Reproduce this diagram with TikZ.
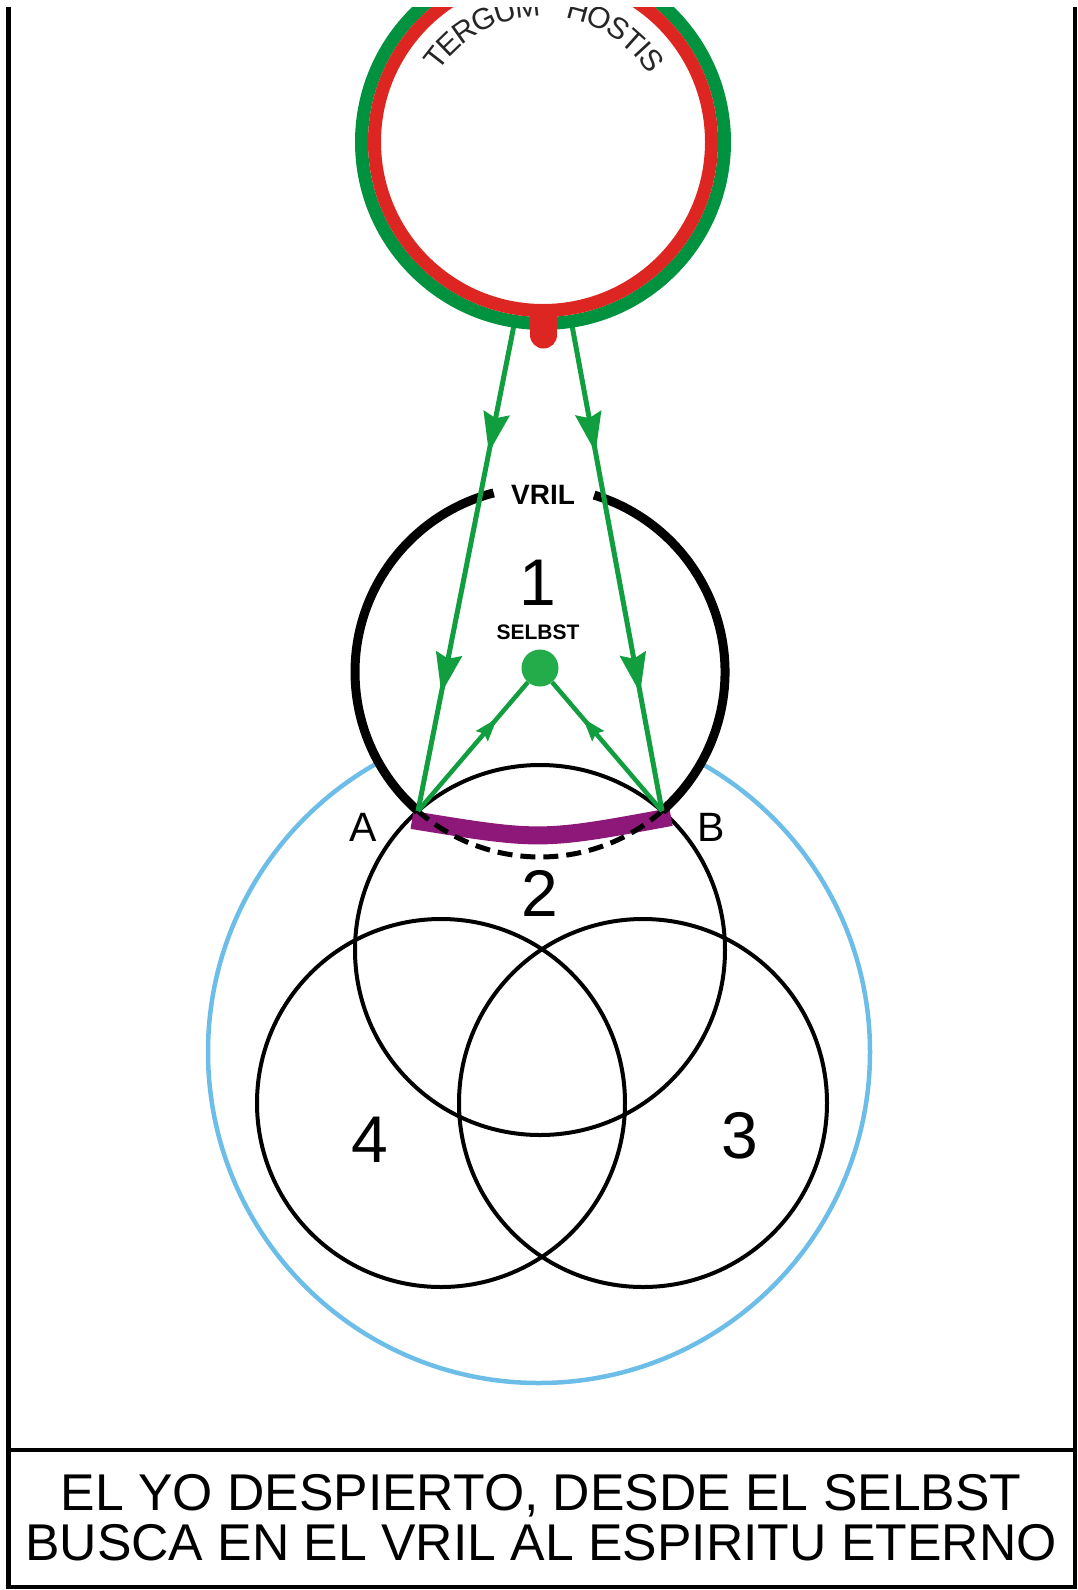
\documentclass[tikz,border=0pt]{standalone}
\usepackage{fontspec}
\setmainfont{Liberation Sans}
\usetikzlibrary{arrows.meta,decorations.markings}

\definecolor{hostisgreen}{RGB}{0,146,63}
\definecolor{hostisred}{RGB}{221,38,34}
\definecolor{raygreen}{RGB}{16,158,62}
\definecolor{dotgreen}{RGB}{36,172,74}
\definecolor{bandpurple}{RGB}{142,24,122}
\definecolor{aurablue}{RGB}{108,190,232}

\begin{document}
\begin{tikzpicture}[x=1pt, y=-1pt,
        thinring/.style={draw=black, line width=4pt},
        thickring/.style={draw=black, line width=9pt},
        ray/.style={draw=raygreen, line width=5pt, postaction={decorate},
            decoration={markings,
                mark=at position 0.27 with {\arrow{Stealth[length=40pt,width=26pt,inset=5pt]}},
                mark=at position 0.76 with {\arrow{Stealth[length=40pt,width=26pt,inset=5pt]}}}},
        backray/.style={draw=raygreen, line width=4.5pt, postaction={decorate},
            decoration={markings,
                mark=at position 0.72 with {\arrow{Stealth[length=23pt,width=15pt,inset=3pt]}}}},
        hostisletter/.style={inner sep=0pt, text=black!85, font=\fontsize{30}{30}\selectfont},
        numlabel/.style={inner sep=0pt, font=\fontsize{66}{66}\selectfont},
        letterlabel/.style={inner sep=0pt, font=\fontsize{41}{41}\selectfont},
        captionline/.style={inner sep=0pt, anchor=base, font=\fontsize{51.7}{51.7}\selectfont}]

    \useasboundingbox (0,0) rectangle (1078,1590);
    \clip (0,7) rectangle (1078,1590);

    % frame
    \draw[line width=4.5pt] (8.5,-20) rectangle (1075,1587);
    \draw[line width=4pt] (8.5,1450) -- (1075,1450);

    % centres and points
    \coordinate (hostis) at (543,142);
    \coordinate (c1) at (540,672);
    \coordinate (c2) at (540,950);
    \coordinate (c3) at (643,1103);
    \coordinate (c4) at (441,1103);
    \coordinate (aura) at (539,1052);
    \coordinate (A) at (418,811);
    \coordinate (B) at (662,811);
    \coordinate (tl) at (515,320);
    \coordinate (tr) at (571,320);

    % circles
    \draw[aurablue, line width=4.5pt] (aura) circle[radius=331];
    \fill[white] (c1) circle[radius=185];
    \draw[thinring] (c2) circle[radius=185];
    \draw[thinring] (c3) circle[radius=184];
    \draw[thinring] (c4) circle[radius=184];

    % band between A and B
    \draw[bandpurple, line width=18pt] (412,820) .. controls (541,841) .. (671,817);

    % circle 1
    \draw[black, line width=5pt, dash pattern=on 15pt off 8pt] (c1) ++(48.7:185) arc[start angle=48.7, end angle=131.3, radius=185];
    \draw[thickring] (c1) ++(131.3:185) arc[start angle=131.3, end angle=255.5, radius=185];
    \draw[thickring] (c1) ++(287:185) arc[start angle=287, end angle=408.7, radius=185];

    % rays
    \draw[ray] (tl) -- (A);
    \draw[ray] (tr) -- (B);
    \node[circle, fill=dotgreen, inner sep=0pt, minimum size=37pt] (selbst) at (540,668) {};
    \draw[backray] (A) -- (selbst);
    \draw[backray] (B) -- (selbst);

    % tergum hostis
    \draw[hostisgreen, line width=13pt] (hostis) circle[radius=181.5];
    \draw[hostisred, line width=13pt] (hostis) circle[radius=168.5];
    \fill[hostisred] (530,305) rectangle (557,335);
    \fill[hostisred] (543.5,335) circle[radius=13.5];
    \foreach \ch/\ang [count=\k] in {T/218,E/226,R/234.7,G/244.2,U/253.6,M/263.4,
            H/285.2,O/294.6,S/303.7,T/311.7,I/317.3,S/323.3}
        \path (hostis) ++(\ang:136) node[hostisletter, rotate=270-\ang] (tg\k) {\ch};

    % labels
    \node[inner sep=0pt, font=\bfseries\fontsize{28}{28}\selectfont] (vril) at (543,495) {VRIL};
    \node[inner sep=0pt, font=\bfseries\fontsize{21}{21}\selectfont] (selbsttext) at (538,632) {SELBST};
    \node[numlabel] (one) at (538,583) {1};
    \node[numlabel] (two) at (540,893) {2};
    \node[numlabel] (three) at (740,1136) {3};
    \node[numlabel] (four) at (370,1140) {4};
    \node[letterlabel] (labA) at (363,827) {A};
    \node[letterlabel] (labB) at (711,827) {B};
    \node[captionline] (cap1) at (541,1510) {EL YO DESPIERTO, DESDE EL SELBST};
    \node[captionline] (cap2) at (541,1560) {BUSCA EN EL VRIL AL ESPIRITU ETERNO};

\end{tikzpicture}
\end{document}
